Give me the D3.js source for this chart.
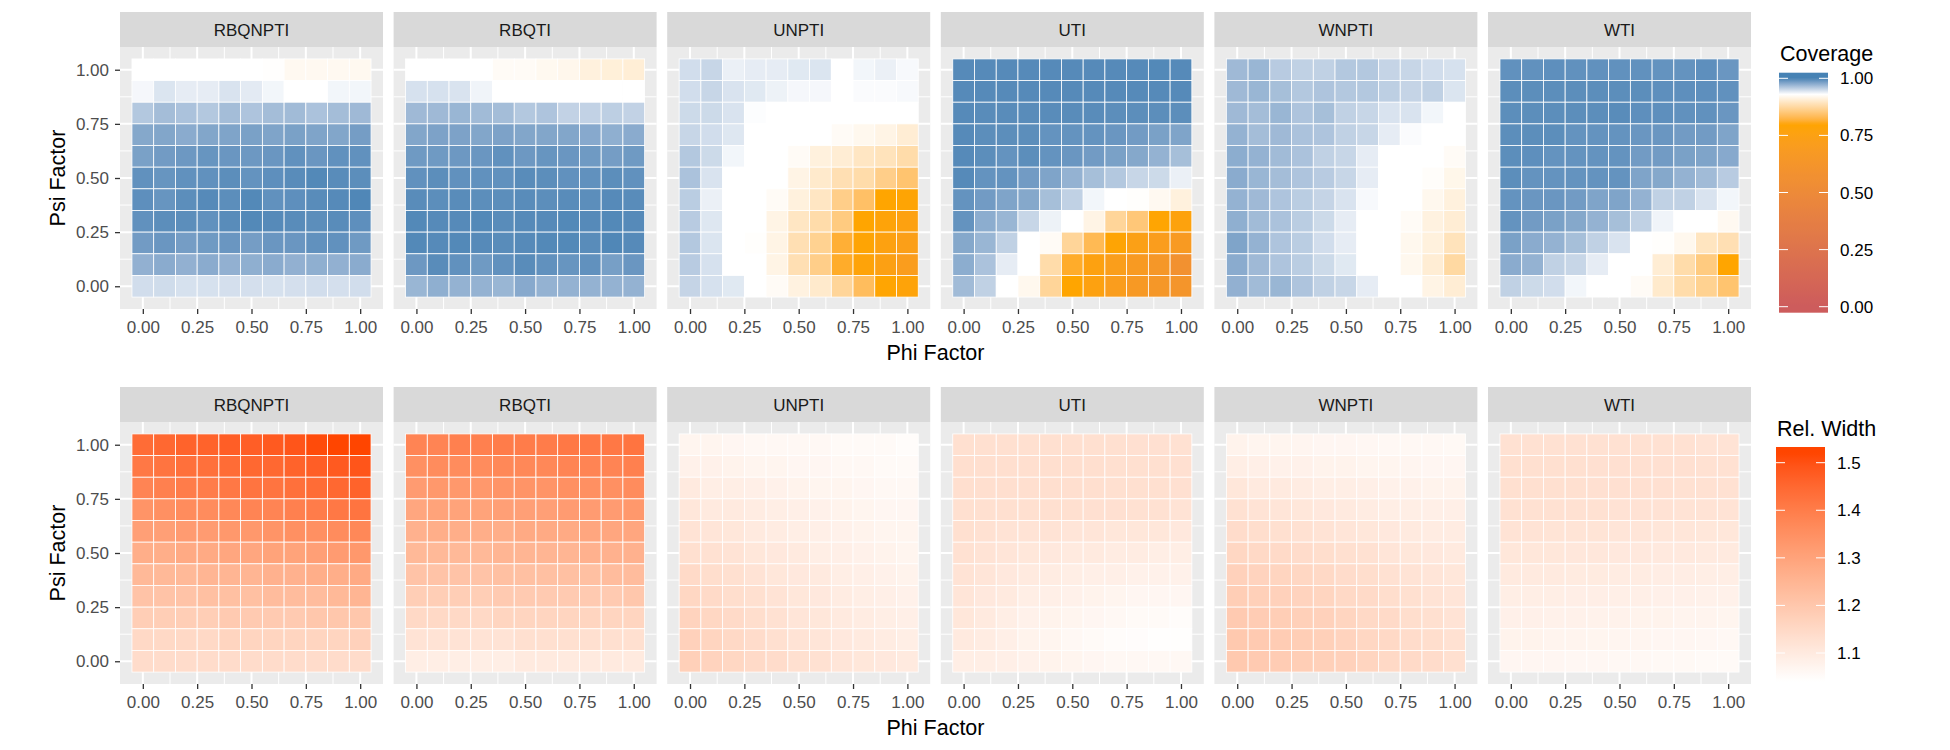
<!DOCTYPE html>
<html><head><meta charset="utf-8">
<script src="https://cdn.jsdelivr.net/npm/d3@7"></script>
<style>body{margin:0;background:#fff}</style>
</head><body><svg id="chart" width="1950" height="750"></svg>
<script>
// ---------------- DATA ----------------
const methods = ["RBQNPTI","RBQTI","UNPTI","UTI","WNPTI","WTI"];
const phiValues = [0,0.1,0.2,0.3,0.4,0.5,0.6,0.7,0.8,0.9,1.0];
// matrix rows run from psi = 1.0 (first row) down to psi = 0.0 (last row)
const psiValues = [1.0,0.9,0.8,0.7,0.6,0.5,0.4,0.3,0.2,0.1,0.0];
const axisTicks = [0,0.25,0.5,0.75,1];
const axisTickLabels = ["0.00","0.25","0.50","0.75","1.00"];
const coverageTicks = [0,0.25,0.5,0.75,1];
const coverageTickLabels = ["0.00","0.25","0.50","0.75","1.00"];
const widthTicks = [1.1,1.2,1.3,1.4,1.5];
const widthTickLabels = ["1.1","1.2","1.3","1.4","1.5"];

const covRBQNPTI = [
 [0.930,0.930,0.930,0.930,0.930,0.930,0.929,0.922,0.922,0.922,0.921],
 [0.934,0.944,0.940,0.940,0.945,0.941,0.935,0.930,0.930,0.935,0.935],
 [0.960,0.966,0.963,0.960,0.966,0.962,0.966,0.967,0.963,0.966,0.968],
 [0.978,0.979,0.976,0.979,0.980,0.982,0.980,0.982,0.980,0.979,0.984],
 [0.982,0.985,0.987,0.989,0.988,0.987,0.988,0.991,0.988,0.991,0.991],
 [0.991,0.989,0.991,0.991,0.993,0.990,0.992,0.994,0.996,0.994,0.993],
 [0.992,0.989,0.993,0.995,0.993,0.996,0.991,0.992,0.994,0.995,0.997],
 [0.991,0.993,0.993,0.991,0.994,0.996,0.995,0.994,0.993,0.994,0.992],
 [0.985,0.988,0.984,0.986,0.988,0.984,0.988,0.988,0.991,0.991,0.986],
 [0.973,0.976,0.973,0.976,0.973,0.974,0.976,0.973,0.974,0.973,0.976],
 [0.948,0.949,0.946,0.946,0.947,0.947,0.946,0.947,0.948,0.947,0.948]];
const covRBQTI = [
 [0.930,0.930,0.930,0.930,0.925,0.925,0.921,0.919,0.910,0.908,0.906],
 [0.946,0.946,0.945,0.936,0.930,0.930,0.930,0.930,0.930,0.930,0.930],
 [0.968,0.968,0.970,0.967,0.966,0.960,0.962,0.954,0.954,0.956,0.954],
 [0.979,0.981,0.981,0.979,0.981,0.979,0.979,0.979,0.977,0.974,0.976],
 [0.986,0.986,0.987,0.988,0.991,0.987,0.989,0.988,0.986,0.984,0.986],
 [0.991,0.993,0.991,0.991,0.991,0.994,0.993,0.991,0.991,0.993,0.991],
 [0.994,0.993,0.994,0.993,0.993,0.994,0.993,0.994,0.993,0.995,0.994],
 [0.996,0.995,0.995,0.996,0.994,0.995,0.995,0.996,0.995,0.996,0.995],
 [0.996,0.995,0.996,0.995,0.994,0.995,0.996,0.996,0.994,0.997,0.995],
 [0.987,0.994,0.991,0.986,0.991,0.994,0.991,0.989,0.991,0.983,0.988],
 [0.970,0.974,0.972,0.972,0.970,0.977,0.972,0.972,0.972,0.972,0.972]];
const covUNPTI = [
 [0.948,0.952,0.938,0.940,0.940,0.942,0.944,0.930,0.935,0.938,0.933],
 [0.948,0.952,0.945,0.942,0.937,0.934,0.934,0.930,0.932,0.932,0.933],
 [0.950,0.950,0.945,0.931,0.930,0.930,0.930,0.930,0.930,0.930,0.930],
 [0.952,0.948,0.943,0.930,0.930,0.930,0.930,0.925,0.920,0.915,0.905],
 [0.960,0.950,0.935,0.930,0.930,0.925,0.910,0.905,0.895,0.890,0.880],
 [0.963,0.945,0.930,0.930,0.930,0.915,0.900,0.885,0.880,0.860,0.845],
 [0.957,0.938,0.930,0.930,0.925,0.910,0.895,0.860,0.840,0.800,0.790],
 [0.958,0.943,0.930,0.930,0.915,0.895,0.880,0.855,0.800,0.780,0.760],
 [0.960,0.944,0.930,0.928,0.915,0.885,0.865,0.815,0.790,0.760,0.730],
 [0.958,0.946,0.930,0.930,0.915,0.885,0.860,0.810,0.780,0.750,0.710],
 [0.953,0.946,0.942,0.930,0.925,0.912,0.900,0.870,0.835,0.795,0.780]];
const covUTI = [
 [0.995,0.995,0.995,0.995,0.995,0.995,0.995,0.995,0.995,0.996,0.995],
 [0.995,0.995,0.995,0.995,0.995,0.995,0.995,0.995,0.995,0.995,0.995],
 [0.995,0.994,0.994,0.994,0.994,0.994,0.994,0.993,0.993,0.993,0.993],
 [0.995,0.993,0.993,0.993,0.990,0.990,0.990,0.988,0.985,0.982,0.980],
 [0.995,0.993,0.990,0.993,0.990,0.988,0.985,0.982,0.978,0.972,0.965],
 [0.995,0.990,0.990,0.985,0.980,0.972,0.965,0.960,0.952,0.950,0.938],
 [0.990,0.985,0.980,0.978,0.965,0.955,0.935,0.930,0.928,0.922,0.910],
 [0.990,0.975,0.970,0.952,0.937,0.930,0.915,0.870,0.850,0.795,0.770],
 [0.978,0.970,0.955,0.930,0.925,0.870,0.830,0.790,0.740,0.710,0.680],
 [0.975,0.963,0.940,0.930,0.880,0.810,0.760,0.720,0.680,0.640,0.580],
 [0.967,0.955,0.930,0.920,0.870,0.800,0.760,0.710,0.670,0.640,0.620]];
const covWNPTI = [
 [0.968,0.970,0.958,0.955,0.955,0.960,0.960,0.953,0.952,0.948,0.946],
 [0.968,0.970,0.965,0.960,0.962,0.960,0.960,0.956,0.953,0.955,0.944],
 [0.968,0.966,0.970,0.962,0.965,0.955,0.952,0.945,0.945,0.935,0.930],
 [0.972,0.966,0.968,0.963,0.962,0.955,0.952,0.940,0.932,0.930,0.930],
 [0.975,0.972,0.967,0.963,0.955,0.952,0.940,0.930,0.930,0.930,0.925],
 [0.976,0.970,0.966,0.962,0.958,0.952,0.940,0.930,0.930,0.927,0.918],
 [0.972,0.968,0.962,0.957,0.953,0.945,0.933,0.930,0.930,0.920,0.910],
 [0.974,0.967,0.963,0.957,0.950,0.940,0.930,0.930,0.925,0.912,0.905],
 [0.980,0.972,0.962,0.957,0.948,0.940,0.930,0.930,0.920,0.910,0.890],
 [0.976,0.968,0.962,0.957,0.950,0.942,0.930,0.930,0.920,0.905,0.875],
 [0.973,0.967,0.970,0.962,0.955,0.952,0.940,0.930,0.930,0.915,0.905]];
const covWTI = [
 [0.991,0.991,0.992,0.991,0.991,0.991,0.991,0.990,0.990,0.992,0.988],
 [0.993,0.993,0.993,0.993,0.993,0.993,0.993,0.992,0.992,0.992,0.991],
 [0.993,0.993,0.993,0.993,0.993,0.994,0.992,0.992,0.991,0.991,0.988],
 [0.993,0.993,0.993,0.990,0.990,0.990,0.988,0.988,0.985,0.985,0.980],
 [0.993,0.992,0.990,0.990,0.990,0.990,0.985,0.985,0.982,0.980,0.977],
 [0.993,0.990,0.990,0.990,0.990,0.990,0.980,0.978,0.972,0.967,0.958],
 [0.990,0.988,0.988,0.985,0.980,0.980,0.972,0.955,0.955,0.945,0.935],
 [0.990,0.985,0.982,0.978,0.972,0.965,0.955,0.936,0.930,0.930,0.922],
 [0.982,0.976,0.972,0.965,0.955,0.945,0.930,0.928,0.920,0.893,0.885],
 [0.976,0.972,0.955,0.952,0.940,0.930,0.930,0.905,0.880,0.855,0.800],
 [0.955,0.950,0.948,0.935,0.930,0.930,0.925,0.900,0.880,0.865,0.845]];

const widRBQNPTI = [
 [1.44,1.45,1.46,1.46,1.47,1.47,1.48,1.49,1.51,1.52,1.53],
 [1.41,1.42,1.43,1.43,1.44,1.45,1.45,1.46,1.47,1.48,1.49],
 [1.38,1.39,1.40,1.40,1.41,1.42,1.42,1.43,1.44,1.45,1.46],
 [1.34,1.35,1.36,1.36,1.37,1.38,1.38,1.39,1.40,1.41,1.42],
 [1.31,1.31,1.32,1.32,1.33,1.33,1.34,1.35,1.35,1.36,1.37],
 [1.27,1.27,1.28,1.28,1.29,1.29,1.30,1.30,1.31,1.32,1.33],
 [1.24,1.24,1.24,1.25,1.25,1.25,1.26,1.26,1.27,1.27,1.28],
 [1.21,1.21,1.21,1.22,1.22,1.22,1.23,1.23,1.23,1.24,1.25],
 [1.18,1.18,1.18,1.18,1.19,1.19,1.19,1.19,1.20,1.20,1.20],
 [1.15,1.15,1.15,1.15,1.16,1.16,1.16,1.16,1.16,1.16,1.17],
 [1.14,1.14,1.14,1.14,1.14,1.14,1.14,1.14,1.14,1.14,1.14]];
const widRBQTI = [
 [1.38,1.38,1.39,1.39,1.40,1.40,1.40,1.41,1.41,1.41,1.42],
 [1.35,1.36,1.36,1.36,1.37,1.37,1.37,1.38,1.38,1.38,1.39],
 [1.32,1.33,1.33,1.33,1.34,1.34,1.34,1.35,1.35,1.35,1.36],
 [1.29,1.30,1.30,1.30,1.31,1.31,1.31,1.32,1.32,1.32,1.33],
 [1.26,1.27,1.27,1.27,1.27,1.28,1.28,1.28,1.29,1.29,1.29],
 [1.24,1.24,1.24,1.24,1.25,1.25,1.25,1.25,1.26,1.26,1.26],
 [1.21,1.21,1.21,1.21,1.22,1.22,1.22,1.22,1.22,1.23,1.23],
 [1.18,1.18,1.18,1.18,1.19,1.19,1.19,1.19,1.19,1.19,1.20],
 [1.15,1.15,1.15,1.15,1.16,1.16,1.16,1.16,1.16,1.16,1.16],
 [1.12,1.12,1.12,1.12,1.12,1.13,1.13,1.13,1.13,1.13,1.13],
 [1.09,1.09,1.09,1.09,1.09,1.10,1.10,1.10,1.10,1.10,1.10]];
const widUNPTI = [
 [1.070,1.070,1.065,1.060,1.060,1.060,1.060,1.055,1.055,1.055,1.050],
 [1.080,1.080,1.075,1.070,1.070,1.065,1.065,1.060,1.060,1.055,1.055],
 [1.100,1.090,1.090,1.085,1.080,1.075,1.070,1.070,1.065,1.060,1.060],
 [1.110,1.100,1.100,1.095,1.090,1.085,1.080,1.075,1.070,1.065,1.065],
 [1.120,1.115,1.110,1.100,1.095,1.090,1.085,1.080,1.075,1.070,1.070],
 [1.130,1.125,1.120,1.110,1.105,1.100,1.090,1.085,1.080,1.075,1.070],
 [1.145,1.135,1.130,1.120,1.110,1.105,1.100,1.090,1.085,1.080,1.075],
 [1.155,1.145,1.135,1.130,1.120,1.110,1.105,1.095,1.090,1.085,1.080],
 [1.165,1.155,1.145,1.135,1.125,1.115,1.110,1.100,1.095,1.090,1.085],
 [1.170,1.160,1.150,1.140,1.130,1.120,1.115,1.105,1.100,1.095,1.090],
 [1.175,1.165,1.155,1.145,1.140,1.130,1.125,1.115,1.110,1.105,1.100]];
const widUTI = [
 [1.130,1.130,1.130,1.130,1.130,1.130,1.130,1.130,1.128,1.128,1.125],
 [1.132,1.132,1.132,1.132,1.132,1.132,1.132,1.130,1.130,1.130,1.128],
 [1.132,1.132,1.132,1.132,1.132,1.132,1.132,1.130,1.130,1.130,1.128],
 [1.130,1.130,1.130,1.130,1.130,1.130,1.128,1.128,1.125,1.125,1.120],
 [1.130,1.125,1.120,1.120,1.120,1.115,1.115,1.110,1.110,1.110,1.105],
 [1.125,1.120,1.115,1.110,1.105,1.100,1.100,1.095,1.095,1.090,1.090],
 [1.120,1.115,1.105,1.100,1.095,1.090,1.085,1.085,1.080,1.080,1.080],
 [1.115,1.105,1.100,1.090,1.085,1.080,1.075,1.070,1.065,1.065,1.065],
 [1.110,1.100,1.090,1.080,1.075,1.070,1.065,1.060,1.055,1.055,1.050],
 [1.100,1.095,1.085,1.075,1.070,1.060,1.055,1.050,1.048,1.043,1.043],
 [1.090,1.090,1.085,1.080,1.075,1.070,1.065,1.060,1.060,1.060,1.060]];
const widWNPTI = [
 [1.075,1.070,1.070,1.068,1.065,1.065,1.062,1.060,1.060,1.060,1.058],
 [1.090,1.085,1.080,1.080,1.075,1.075,1.070,1.070,1.068,1.065,1.065],
 [1.110,1.100,1.100,1.095,1.090,1.090,1.085,1.080,1.080,1.075,1.075],
 [1.125,1.120,1.115,1.110,1.105,1.100,1.095,1.090,1.090,1.085,1.085],
 [1.140,1.135,1.130,1.125,1.120,1.115,1.110,1.105,1.100,1.095,1.095],
 [1.155,1.150,1.145,1.140,1.135,1.130,1.125,1.115,1.110,1.105,1.100],
 [1.170,1.165,1.160,1.155,1.150,1.140,1.135,1.125,1.120,1.115,1.110],
 [1.180,1.175,1.170,1.165,1.160,1.150,1.145,1.135,1.130,1.120,1.115],
 [1.190,1.185,1.180,1.175,1.170,1.160,1.150,1.145,1.135,1.130,1.120],
 [1.195,1.190,1.185,1.180,1.175,1.165,1.155,1.150,1.140,1.135,1.125],
 [1.195,1.190,1.185,1.180,1.175,1.170,1.160,1.150,1.145,1.140,1.130]];
const widWTI = [
 [1.125,1.125,1.125,1.125,1.125,1.125,1.125,1.125,1.125,1.120,1.120],
 [1.130,1.130,1.130,1.130,1.128,1.128,1.128,1.128,1.128,1.125,1.125],
 [1.130,1.130,1.130,1.130,1.128,1.128,1.128,1.128,1.125,1.125,1.125],
 [1.125,1.125,1.125,1.125,1.125,1.122,1.122,1.122,1.120,1.120,1.120],
 [1.120,1.120,1.118,1.118,1.118,1.115,1.115,1.112,1.112,1.110,1.110],
 [1.110,1.110,1.110,1.108,1.108,1.105,1.105,1.102,1.102,1.100,1.100],
 [1.100,1.100,1.100,1.098,1.098,1.095,1.095,1.092,1.092,1.090,1.090],
 [1.090,1.090,1.090,1.088,1.088,1.085,1.085,1.082,1.082,1.080,1.080],
 [1.082,1.082,1.080,1.080,1.078,1.078,1.075,1.075,1.072,1.072,1.070],
 [1.075,1.075,1.072,1.072,1.070,1.068,1.068,1.065,1.065,1.062,1.060],
 [1.065,1.065,1.065,1.062,1.062,1.060,1.060,1.058,1.058,1.055,1.055]];

const coverageData = [covRBQNPTI,covRBQTI,covUNPTI,covUTI,covWNPTI,covWTI];
const widthData = [widRBQNPTI,widRBQTI,widUNPTI,widUTI,widWNPTI,widWTI];

// ---------------- LAYOUT ----------------
const FONT = "'Liberation Sans', Arial, Helvetica, sans-serif";
const panelX0 = 120, panelPitch = 273.6, panelW = 263, panelH = 262, stripH = 35;
const rowTops = [47, 422];
const svg = d3.select("#chart");

const x = d3.scaleLinear().domain([-0.105, 1.105]).range([0, panelW]);
const y = d3.scaleLinear().domain([-0.105, 1.105]).range([panelH, 0]);

const covColor = d3.scaleLinear()
  .domain([0, 0.8, 0.93, 1.0])
  .range(["indianred", "orange", "white", "steelblue"])
  .interpolate(d3.interpolateLab).clamp(true);
const widColor = d3.scaleLinear()
  .domain([1.04, 1.52])
  .range(["white", "orangered"])
  .interpolate(d3.interpolateLab).clamp(true);

const minorTicks = [0.125, 0.375, 0.625, 0.875];

function drawRow(rowIdx, dataSets, colorScale) {
  const top = rowTops[rowIdx];
  methods.forEach((m, i) => {
    const left = panelX0 + i * panelPitch;
    // strip
    svg.append("rect").attr("x", left).attr("y", top - stripH)
      .attr("width", panelW).attr("height", stripH).attr("fill", "#D9D9D9");
    svg.append("text").attr("x", left + panelW / 2).attr("y", top - stripH / 2 + 6)
      .attr("text-anchor", "middle").attr("font-family", FONT).attr("font-size", 17)
      .attr("fill", "#1A1A1A").text(m);
    const g = svg.append("g").attr("transform", `translate(${left},${top})`);
    g.append("rect").attr("width", panelW).attr("height", panelH).attr("fill", "#EBEBEB");
    // grid
    g.selectAll(".vmin").data(minorTicks).join("line")
      .attr("x1", d => x(d)).attr("x2", d => x(d)).attr("y1", 0).attr("y2", panelH)
      .attr("stroke", "#fff").attr("stroke-width", 1);
    g.selectAll(".hmin").data(minorTicks).join("line")
      .attr("y1", d => y(d)).attr("y2", d => y(d)).attr("x1", 0).attr("x2", panelW)
      .attr("stroke", "#fff").attr("stroke-width", 1);
    g.selectAll(".vmaj").data(axisTicks).join("line")
      .attr("x1", d => x(d)).attr("x2", d => x(d)).attr("y1", 0).attr("y2", panelH)
      .attr("stroke", "#fff").attr("stroke-width", 2);
    g.selectAll(".hmaj").data(axisTicks).join("line")
      .attr("y1", d => y(d)).attr("y2", d => y(d)).attr("x1", 0).attr("x2", panelW)
      .attr("stroke", "#fff").attr("stroke-width", 2);
    // tiles
    const cells = [];
    dataSets[i].forEach((row, r) => row.forEach((v, c) => cells.push({phi: phiValues[c], psi: psiValues[r], v})));
    g.selectAll(".tile").data(cells).join("rect")
      .attr("x", d => x(d.phi - 0.05)).attr("y", d => y(d.psi + 0.05))
      .attr("width", d => x(d.phi + 0.05) - x(d.phi - 0.05))
      .attr("height", d => y(d.psi - 0.05) - y(d.psi + 0.05))
      .attr("fill", d => colorScale(d.v))
      .attr("stroke", "#fff").attr("stroke-width", 0.8);
    // x axis
    const xa = g.append("g").attr("transform", `translate(0,${panelH})`)
      .call(d3.axisBottom(x).tickValues(axisTicks).tickFormat((d, k) => axisTickLabels[k]).tickSize(5).tickPadding(7));
    styleAxis(xa);
    if (i === 0) {
      const ya = g.append("g")
        .call(d3.axisLeft(y).tickValues(axisTicks).tickFormat((d, k) => axisTickLabels[k]).tickSize(5).tickPadding(6));
      styleAxis(ya);
    }
  });
  // axis titles
  svg.append("text").attr("x", (panelX0 + panelX0 + 5 * panelPitch + panelW) / 2)
    .attr("y", top + panelH + 51).attr("text-anchor", "middle")
    .attr("font-family", FONT).attr("font-size", 21.5).attr("fill", "#000").text("Phi Factor");
  svg.append("text").attr("transform", `translate(65,${top + panelH / 2}) rotate(-90)`)
    .attr("text-anchor", "middle").attr("font-family", FONT).attr("font-size", 21.5)
    .attr("fill", "#000").text("Psi Factor");
}
function styleAxis(a) {
  a.select(".domain").remove();
  a.selectAll(".tick line").attr("stroke", "#333333").attr("stroke-width", 1.3);
  a.selectAll(".tick text").attr("fill", "#4D4D4D").attr("font-family", FONT).attr("font-size", 17);
}

drawRow(0, coverageData, covColor);
drawRow(1, widthData, widColor);

// ---------------- LEGENDS ----------------
function legend(opts) {
  const {title, titleX, titleY, barX, barW, barTop, barBot, ly, colorScale, ticks, labels, labelX} = opts;
  const defs = svg.append("defs");
  const id = "grad" + title.replace(/\W/g, "");
  const grad = defs.append("linearGradient").attr("id", id)
    .attr("x1", 0).attr("x2", 0).attr("y1", 1).attr("y2", 0);
  const vBot = ly.invert(barBot), vTop = ly.invert(barTop);
  d3.range(0, 1.0001, 0.01).forEach(t => {
    grad.append("stop").attr("offset", t).attr("stop-color", colorScale(vBot + (vTop - vBot) * t));
  });
  svg.append("text").attr("x", titleX).attr("y", titleY).attr("font-family", FONT)
    .attr("font-size", 21.5).attr("fill", "#000").text(title);
  svg.append("rect").attr("x", barX).attr("y", barTop).attr("width", barW)
    .attr("height", barBot - barTop).attr("fill", `url(#${id})`);
  ticks.forEach((t, k) => {
    const yy = ly(t);
    svg.append("line").attr("x1", barX).attr("x2", barX + 9).attr("y1", yy).attr("y2", yy)
      .attr("stroke", "#fff").attr("stroke-width", 1);
    svg.append("line").attr("x1", barX + barW - 9).attr("x2", barX + barW).attr("y1", yy).attr("y2", yy)
      .attr("stroke", "#fff").attr("stroke-width", 1);
    svg.append("text").attr("x", labelX).attr("y", yy + 6).attr("font-family", FONT)
      .attr("font-size", 17).attr("fill", "#000").text(labels[k]);
  });
}
legend({title: "Coverage", titleX: 1780, titleY: 61, barX: 1779, barW: 49, barTop: 72.7, barBot: 312.7,
  ly: d3.scaleLinear().domain([0, 1]).range([306.7, 78.3]), colorScale: covColor,
  ticks: coverageTicks, labels: coverageTickLabels, labelX: 1840});
legend({title: "Rel. Width", titleX: 1777, titleY: 436, barX: 1776, barW: 49, barTop: 447, barBot: 687,
  ly: d3.scaleLinear().domain([1.1, 1.5]).range([653, 462.7]), colorScale: widColor,
  ticks: widthTicks, labels: widthTickLabels, labelX: 1837});
</script></body></html>
